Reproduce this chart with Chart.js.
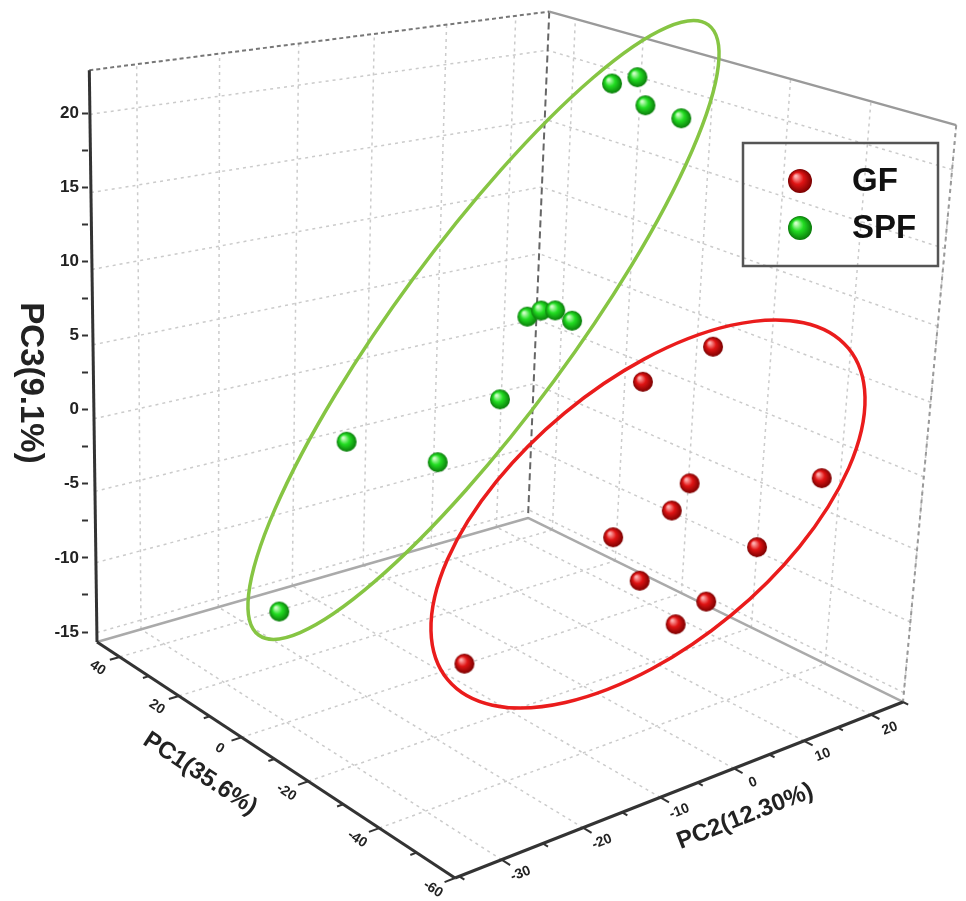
<!DOCTYPE html>
<html><head><meta charset="utf-8">
<script src="https://cdn.jsdelivr.net/npm/chart.js@4.4.1/dist/chart.umd.min.js"></script>
<style>html,body{margin:0;padding:0;background:#fff;}#wrap{position:relative;width:966px;height:901px;}</style>
</head><body><div id="wrap"><canvas id="c" width="966" height="901"></canvas></div>
<script>
// ---------------- data ----------------
const seriesNames = ['GF', 'SPF'];
const gfPC1 = [-32.1, -23.0, -30.3, -47.8, -27.9, -19.6, -39.7, -23.8, -33.7, -33.2, -28.1];
const gfPC2 = [9.2, 4.6, 8.1, 17.2, 7.1, 3.4, 13.2, 5.3, 9.7, 5.7, -20.2];
const gfPC3 = [7.7, 5.0, -1.5, -0.4, -3.5, -5.8, -5.5, -8.6, -9.5, -10.5, -9.5];
const spfPC1 = [9.1, 6.0, -3.5, -14.2, -6.0, -7.3, -9.3, -12.2, -6.1, -1.9, 10.2, 16.6];
const spfPC2 = [15.0, 17.0, 13.3, 12.7, -3.0, -1.8, -0.9, 0.0, -6.3, -12.3, -18.8, -24.4];
const spfPC3 = [21.1, 21.6, 20.7, 20.7, 8.5, 8.9, 9.0, 8.5, 3.4, -0.5, 0.4, -11.2];
const pc1Ticks = [40, 20, 0, -20, -40, -60];
const pc2Ticks = [-30, -20, -10, 0, 10, 20];
const pc3Ticks = [-15, -10, -5, 0, 5, 10, 15, 20];
const axisTitles = ['PC1(35.6%)', 'PC2(12.30%)', 'PC3(9.1%)'];
const PC1_RANGE = [-60, 48], PC2_RANGE = [-35.5, 25], PC3_RANGE = [-15.67, 22.77];

// ---------------- view: box corners in chart value units (u on hidden x scale, v on PC3 scale) -------------
const V = {B:[367,-31.59], A:[9,-15.67], D:[440,-7.31], C:[815,-19.72],
           Atop:[2,22.77], Dtop:[460,26.81], Ctop:[869,19.33]};

function inv3(m){const [a,b,c]=m[0],[d,e,f]=m[1],[g,h,i]=m[2];
 const A=e*i-f*h,B=-(d*i-f*g),C=d*h-e*g;const det=a*A+b*B+c*C;
 return [[A/det,-(b*i-c*h)/det,(b*f-c*e)/det],[B/det,(a*i-c*g)/det,-(a*f-c*d)/det],[C/det,-(a*h-b*g)/det,(a*e-b*d)/det]];}
function squareToQuad(p0,p1,p2,p3){const [x0,y0]=p0,[x1,y1]=p1,[x2,y2]=p2,[x3,y3]=p3;
 const dx1=x1-x2,dx2=x3-x2,dx3=x0-x1+x2-x3,dy1=y1-y2,dy2=y3-y2,dy3=y0-y1+y2-y3;
 const den=dx1*dy2-dx2*dy1;const g=(dx3*dy2-dx2*dy3)/den,h=(dx1*dy3-dx3*dy1)/den;
 return {ps:[x1-x0+g*x1,y1-y0+g*y1,g],pt:[x3-x0+h*x3,y3-y0+h*y3,h],p0:[x0,y0,1]};}
const cam=(()=>{const f=squareToQuad(V.B,V.A,V.D,V.C);
 const tops=[[1,0,V.Atop],[1,1,V.Dtop],[0,1,V.Ctop]];
 const N=[[0,0,0],[0,0,0],[0,0,0]],bb=[0,0,0];
 tops.forEach(([s,t,[u,v]])=>{const q=[0,1,2].map(k=>s*f.ps[k]+t*f.pt[k]+f.p0[k]);
  [[1,0,-u,u*q[2]-q[0]],[0,1,-v,v*q[2]-q[1]]].forEach(r=>{for(let i=0;i<3;i++){for(let j=0;j<3;j++)N[i][j]+=r[i]*r[j];bb[i]+=r[i]*r[3];}});});
 const Ni=inv3(N);const pc=[0,1,2].map(i=>Ni[i][0]*bb[0]+Ni[i][1]*bb[1]+Ni[i][2]*bb[2]);
 return {ps:f.ps,pt:f.pt,p0:f.p0,pc};})();
const nrm=(v,r)=>(v-r[0])/(r[1]-r[0]);
function project(p1,p2,p3){const s=nrm(p1,PC1_RANGE),t=nrm(p2,PC2_RANGE),c=nrm(p3,PC3_RANGE);
 const X=[0,1,2].map(k=>s*cam.ps[k]+t*cam.pt[k]+c*cam.pc[k]+cam.p0[k]);return {x:X[0]/X[2],y:X[1]/X[2]};}

function sphere(light,mid,dark,r){const c=document.createElement('canvas');const d=2*r+2;c.width=d;c.height=d;
 const g=c.getContext('2d');const cx=d/2,cy=d/2;const grd=g.createRadialGradient(cx-r*0.35,cy-r*0.4,r*0.08,cx,cy,r);
 grd.addColorStop(0,light);grd.addColorStop(0.45,mid);grd.addColorStop(1,dark);g.fillStyle=grd;g.beginPath();g.arc(cx,cy,r,0,Math.PI*2);g.fill();return c;}
const redBall=sphere('#ffb0b0','#e01414','#7a0000',10), greenBall=sphere('#d0ffc8','#22dd22','#0a7a0a',10);
const redBallL=sphere('#ffb0b0','#e01414','#7a0000',12), greenBallL=sphere('#d0ffc8','#22dd22','#0a7a0a',12);

const gfPts=gfPC1.map((v,i)=>project(v,gfPC2[i],gfPC3[i]));
const spfPts=spfPC1.map((v,i)=>project(v,spfPC2[i],spfPC3[i]));

const FONT='"Liberation Sans", Arial, sans-serif';
const boxPlugin={id:'box3d',
 beforeDatasetsDraw(ch){const g=ch.ctx,xs=ch.scales.x,ys=ch.scales.y;
  const P=(a,b,c)=>{const p=project(a,b,c);return [xs.getPixelForValue(p.x),ys.getPixelForValue(p.y)];};
  const line=(p,q,col,w,dash)=>{g.save();g.strokeStyle=col;g.lineWidth=w;g.setLineDash(dash||[]);g.beginPath();g.moveTo(p[0],p[1]);g.lineTo(q[0],q[1]);g.stroke();g.restore();};
  const [a0,a1]=PC1_RANGE,[b0,b1]=PC2_RANGE,[c0,c1]=PC3_RANGE;
  const gc='#cbcbcb',gd=[3,4];
  pc1Ticks.forEach(p=>line(P(p,b0,c0),P(p,b1,c0),gc,1.5,gd));
  pc2Ticks.forEach(q=>line(P(a0,q,c0),P(a1,q,c0),gc,1.5,gd));
  pc2Ticks.forEach(q=>line(P(a1,q,c0),P(a1,q,c1),gc,1.5,gd));
  pc3Ticks.forEach(z=>line(P(a1,b0,z),P(a1,b1,z),gc,1.5,gd));
  pc1Ticks.forEach(p=>line(P(p,b1,c0),P(p,b1,c1),gc,1.5,gd));
  pc3Ticks.forEach(z=>line(P(a0,b1,z),P(a1,b1,z),gc,1.5,gd));
  line(P(a1,b0,c1),P(a1,b1,c1),'#777',2,[4,3]);
  line(P(a1,b1,c1),P(a1,b1,c0),'#666',2,[7,4]);
  line(P(a1,b1,c1),P(a0,b1,c1),'#9a9a9a',2.5);
  line(P(a0,b1,c1),P(a0,b1,c0),'#999',2,[4,4]);
  line(P(a1,b0,c0),P(a1,b1,c0),'#aaa',2.5);
  line(P(a1,b1,c0),P(a0,b1,c0),'#aaa',2.5);
  line(P(a1,b0,c0),P(a1,b0,c1),'#333',3);
  line(P(a1,b0,c0),P(a0,b0,c0),'#333',3);
  line(P(a0,b0,c0),P(a0,b1,c0),'#333',3);
  const text=(s,p,ang,font)=>{g.save();g.translate(p[0],p[1]);g.rotate(ang);g.font=font;g.fillStyle='#222';g.textAlign='center';g.textBaseline='middle';g.fillText(s,0,0);g.restore();};
  const angOf=(p,q)=>Math.atan2(q[1]-p[1],q[0]-p[0]);
  const ang1=angOf(P(a1,b0,c0),P(a0,b0,c0)), ang2=angOf(P(a0,b0,c0),P(a0,b1,c0));
  const r1=a1-a0,r2=b1-b0;
  for(let p=-60;p<=40;p+=10){const maj=pc1Ticks.includes(p);line(P(p,b0,c0),P(p,b0-(maj?0.02:0.012)*r2,c0),'#333',2);}
  pc1Ticks.forEach(p=>{const q=P(p,b0,c0);text(String(p),[q[0]-22,q[1]+11],ang1,'bold 14px '+FONT);});
  for(let q=-35;q<=25;q+=5){if(q<b0||q>b1)continue;const maj=pc2Ticks.includes(q);line(P(a0,q,c0),P(a0-(maj?0.02:0.012)*r1,q,c0),'#333',2);}
  pc2Ticks.forEach(q=>{const t=P(a0,q,c0);text(String(q),[t[0]+19,t[1]+14],ang2,'bold 14px '+FONT);});
  text(axisTitles[0],P(-7,b0-0.125*r2,c0),ang1,'bold 24px '+FONT);
  text(axisTitles[1],P(a0-0.125*r1,-6,c0),ang2,'bold 24px '+FONT);
  text(axisTitles[2],[30,383],Math.PI/2,'bold 33px '+FONT);
 },
 afterDatasetsDraw(ch){const g=ch.ctx,xs=ch.scales.x,ys=ch.scales.y;
  const ell=(cu,cv,a,b,deg,col)=>{g.save();g.strokeStyle=col;g.lineWidth=3.5;g.beginPath();g.ellipse(xs.getPixelForValue(cu),ys.getPixelForValue(cv),a,b,deg*Math.PI/180,0,Math.PI*2);g.stroke();g.restore();};
  ell(395.5,5.37,379,87,-53.6,'#86c543');
  ell(560,-7.04,260,131,-39.6,'#ea1c1c');
  g.save();g.strokeStyle='#555';g.lineWidth=2.5;g.strokeRect(743,143,195,123);
  g.drawImage(redBallL,800-13,181-13);g.drawImage(greenBallL,800-13,228-13);
  g.font='bold 33px '+FONT;g.fillStyle='#111';g.textBaseline='middle';g.textAlign='left';
  g.fillText(seriesNames[0],852,182);g.fillText(seriesNames[1],852,229);g.restore();
 }};

const chart=new Chart(document.getElementById('c'),{type:'scatter',
 data:{datasets:[
  {label:seriesNames[0],data:gfPts,pointStyle:redBall,pointRadius:10},
  {label:seriesNames[1],data:spfPts,pointStyle:greenBall,pointRadius:10}]},
 options:{responsive:false,animation:false,layout:{padding:0},
  plugins:{legend:{display:false},tooltip:{enabled:false}},
  scales:{x:{type:'linear',display:false,min:0,max:878},
   y:{type:'linear',position:'left',min:-33.141,max:27.62,
    afterFit(s){s.width=88;},
    afterBuildTicks(s){const t=[];for(let v=-15;v<=20;v+=2.5)t.push({value:v});s.ticks=t;},
    ticks:{autoSkip:false,padding:3,color:'#222',font:{family:FONT,weight:'bold',size:17},callback:(v)=>pc3Ticks.includes(v)?String(v):''},
    grid:{drawOnChartArea:false,drawTicks:true,tickLength:6,tickColor:'#333',tickWidth:2},
    border:{display:false}}}},
 plugins:[boxPlugin]});
// align value space to the frame: 1 unit of u = 1px from x=88, PC3 20 at y=113 and -15 at y=632
(function(){const ca=chart.chartArea,k=519/35;
 chart.options.scales.x.min=ca.left-88;chart.options.scales.x.max=ca.right-88;
 chart.options.scales.y.max=20+(113-ca.top)/k;chart.options.scales.y.min=-15-(ca.bottom-632)/k;chart.update();})();
</script></body></html>
